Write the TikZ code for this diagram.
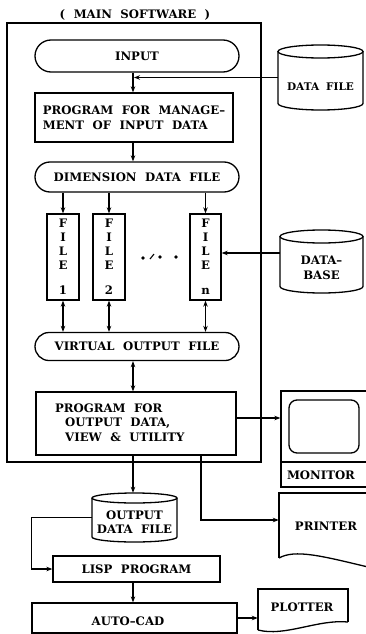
\documentclass[tikz,border=0pt]{standalone}
\usepackage{fontspec}
\setmainfont{DejaVu Serif}
\usetikzlibrary{arrows.meta,calc}
\newcommand\mylblfont{\fontsize{11.7}{14.5}\selectfont\bfseries\spaceskip=8.5pt plus 2pt minus 1pt\relax}
\newcommand\mysmallfont{\fontsize{10.5}{12}\selectfont\bfseries\spaceskip=7pt plus 2pt minus 1pt\relax}
\newcommand\myfilefont{\fontsize{11.7}{14}\selectfont\bfseries}
\begin{document}
\begin{tikzpicture}[x=1pt,y=-1pt,
  box/.style={draw, line width=1.3pt, inner sep=0pt},
  stadium/.style={box, rounded corners=14pt},
  ghost/.style={inner sep=0pt},
  lbl/.style={font=\mylblfont, inner sep=0pt},
  slbl/.style={font=\mysmallfont, inner sep=0pt},
  ln/.style={line width=1.3pt},
  arr/.style={line width=1.2pt, -{Stealth[length=6pt,width=4.5pt]}},
  darr/.style={line width=1.2pt, {Stealth[length=6pt,width=4.5pt]}-{Stealth[length=6pt,width=4.5pt]}}]
\useasboundingbox (0,0) rectangle (365,634);
\coordinate (spine) at (133,0);

% main frame
\node[box, minimum width=254pt, minimum height=439pt] (frame) at (134,242.5) {};
\node[lbl] (title) at (135,15) {( MAIN SOFTWARE )};

% input
\node[stadium, rounded corners=16pt, minimum width=204pt, minimum height=32pt, lbl] (input) at (137,56) {INPUT};
\node[box, lbl, minimum width=198pt, minimum height=49pt, align=left] (prog) at (134,117.5) {PROGRAM FOR MANAGE--\\MENT OF INPUT DATA};

% data file cylinder
\node[ghost, minimum width=85pt, minimum height=65pt] (df) at (320.5,77.5) {};
\draw[ln] (278,51.5) -- (278,103.5) arc[start angle=180, end angle=0, x radius=42.5, y radius=6.5] -- (363,51.5);
\draw[ln] (320.5,51.5) ellipse[x radius=42.5, y radius=6.5];
\node[slbl] (dft) at (320.5,87) {DATA FILE};

% dimension data file
\node[stadium, rounded corners=15pt, minimum width=204pt, minimum height=30pt, lbl] (ddf) at (137,177) {DIMENSION DATA FILE};

% files
\node[box, minimum width=32pt, minimum height=86pt, align=center, font=\myfilefont] (f1) at (63,257) {F\\I\\L\\E\\[11pt]1};
\node[box, minimum width=32pt, minimum height=86pt, align=center, font=\myfilefont] (f2) at (109,257) {F\\I\\L\\E\\[11pt]2};
\node[box, minimum width=31pt, minimum height=86pt, align=center, font=\myfilefont] (fn) at (205.5,257) {F\\I\\L\\E\\[11pt]n};
\fill (143,258) circle[radius=1.8];
\draw[line width=1.1pt] (150,259) -- (154,254);
\fill (160,257) circle[radius=1.8];
\fill (176,257) circle[radius=1.8];

% database cylinder
\node[ghost, minimum width=83pt, minimum height=63pt] (db) at (321.5,261.5) {};
\draw[ln] (280,236.5) -- (280,286.5) arc[start angle=180, end angle=0, x radius=41.5, y radius=6.5] -- (363,236.5);
\draw[ln] (321.5,236.5) ellipse[x radius=41.5, y radius=6.5];
\node[lbl, align=center] (dbt) at (321.5,268) {DATA--\\BASE};

% virtual output file
\node[stadium, rounded corners=14pt, minimum width=204pt, minimum height=28pt, lbl] (vof) at (137,346.5) {VIRTUAL OUTPUT FILE};

% output program
\node[box, minimum width=200pt, minimum height=63pt] (oprog) at (136,423.5) {};
\node[lbl, align=left, anchor=west] (oprogt) at (55,422.5) {PROGRAM FOR\\\hspace*{10pt}OUTPUT DATA,\\\hspace*{10pt}VIEW \& UTILITY};

% monitor
\node[box, minimum width=86pt, minimum height=96pt] (mon) at (324,439) {};
\node[box, rounded corners=8pt, minimum width=70pt, minimum height=53pt] (scr) at (324,426.5) {};
\draw[ln] (mon.west |- 0,462) -- (mon.east |- 0,462);
\node[lbl] (mont) at (321,475) {MONITOR};

% printer
\node[ghost, minimum width=88pt, minimum height=64pt] (prn) at (323,525) {};
\draw[ln] (279,558) -- (279,493) -- (368,493) -- (368,567);
\draw[ln] (279,558) .. controls (295,549) and (322,556) .. (368,567);
\node[lbl] (prnt) at (326,526) {PRINTER};

% output data file cylinder
\node[ghost, minimum width=85pt, minimum height=49pt] (odf) at (134.5,517.5) {};
\draw[ln] (92,498) -- (92,537) arc[start angle=180, end angle=0, x radius=42.5, y radius=5] -- (177,498);
\draw[ln] (134.5,498) ellipse[x radius=42.5, y radius=5];
\node[lbl, align=center] (odft) at (134.5,522) {OUTPUT\\DATA FILE};

% lisp, autocad, plotter
\node[box, lbl, minimum width=167pt, minimum height=26pt] (lisp) at (136.5,569) {LISP PROGRAM};
\node[box, minimum width=205pt, minimum height=30pt] (acad) at (134.5,618) {};
\node[lbl] (acadt) at (128,621) {AUTO--CAD};
\node[ghost, minimum width=90pt, minimum height=36pt] (plt) at (303,607) {};
\draw[ln] (258,630) -- (258,589) -- (348,589) -- (348,622);
\draw[ln] (258,630) .. controls (285,637) and (318,619) .. (348,622);
\node[lbl] (pltt) at (302,607) {PLOTTER};

% connectors
\draw[arr] (input.south -| spine) -- (prog.north -| spine);
\draw[arr] (df.west) -- ($(df.west -| spine)+(1,0)$);
\draw[arr] (prog.south -| spine) -- (ddf.north -| spine);
\draw[arr] (ddf.south -| f1) -- (f1.north);
\draw[arr] (ddf.south -| f2) -- (f2.north);
\draw[arr] (ddf.south -| fn) -- (fn.north);
\draw[darr] (f1.south) -- (vof.north -| f1);
\draw[darr] (f2.south) -- (vof.north -| f2);
\draw[darr] (fn.south) -- (vof.north -| fn);
\draw[arr] ($(db.west)+(0,-8.5)$) -- ($(fn.east)+(0,-4)$);
\draw[darr] (vof.south -| spine) -- (oprog.north -| spine);
\draw[arr] ($(oprog.east)+(0,-5.5)$) -- ($(mon.west)+(0,-21)$);
\draw[arr] (oprog.south -| spine) -- (odf.north -| spine);
\draw[arr] ($(oprog.south)+(65,0)$) |- ($(prn.west)+(0,-5)$);
\draw[arr] (odf.west) -- ++(-60,0) |- (lisp.west);
\draw[arr] (lisp.south -| spine) -- (acad.north -| spine);
\draw[arr] (acad.east) -- (acad.east -| plt.west);
\end{tikzpicture}
\end{document}
